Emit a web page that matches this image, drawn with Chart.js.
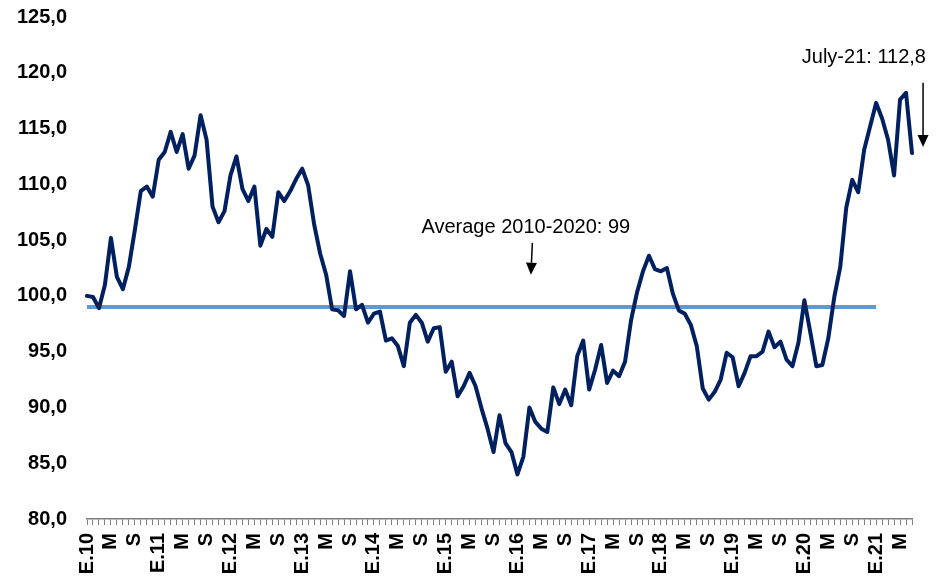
<!DOCTYPE html>
<html>
<head>
<meta charset="utf-8">
<script src="https://cdn.jsdelivr.net/npm/chart.js@4.4.1/dist/chart.umd.min.js"></script>
<style>
  html, body { margin: 0; padding: 0; background: #fff; }
  #wrap { width: 944px; height: 578px; position: relative; }
</style>
</head>
<body>
<div id="wrap"><canvas id="chart"></canvas></div>
<script>
// monthly index, Jan-2010 .. Jul-2021
const v2010 = [100.0, 99.9, 98.9, 101.0, 105.2, 101.7, 100.6, 102.6, 105.9, 109.4, 109.8, 108.9];
const v2011 = [112.2, 112.9, 114.7, 112.9, 114.5, 111.4, 112.6, 116.2, 114.0, 108.0, 106.6, 107.6];
const v2012 = [110.8, 112.5, 109.6, 108.5, 109.8, 104.5, 106.0, 105.3, 109.3, 108.5, 109.4, 110.5];
const v2013 = [111.4, 109.9, 106.4, 103.8, 101.9, 98.8, 98.7, 98.2, 102.2, 98.8, 99.2, 97.6];
const v2014 = [98.4, 98.6, 96.0, 96.2, 95.5, 93.7, 97.6, 98.3, 97.6, 95.9, 97.1, 97.2];
const v2015 = [93.2, 94.1, 91.0, 91.9, 93.1, 91.9, 89.9, 88.1, 86.0, 89.3, 86.8, 86.0];
const v2016 = [84.0, 85.6, 90.0, 88.7, 88.1, 87.8, 91.8, 90.3, 91.6, 90.2, 94.6, 96.0];
const v2017 = [91.6, 93.4, 95.6, 92.2, 93.3, 92.8, 94.1, 97.8, 100.3, 102.2, 103.6, 102.4];
const v2018 = [102.2, 102.5, 100.2, 98.7, 98.4, 97.4, 95.5, 91.7, 90.7, 91.4, 92.5, 94.9];
const v2019 = [94.5, 91.9, 93.1, 94.6, 94.6, 95.0, 96.8, 95.4, 95.9, 94.3, 93.7, 95.8];
const v2020 = [99.6, 96.7, 93.7, 93.8, 96.2, 99.9, 102.6, 107.9, 110.4, 109.3, 113.1, 115.2];
const v2021 = [117.3, 115.9, 114.0, 110.8, 117.6, 118.2, 112.8];

const years = ['10', '11', '12', '13', '14', '15', '16', '17', '18', '19', '20', '21'];
const yTicks = [80, 85, 90, 95, 100, 105, 110, 115, 120, 125];

const avgValue = 99;        // Average 2010-2020
const avgLastIndex = 132;   // line drawn until Jan-21

const series = [].concat(v2010, v2011, v2012, v2013, v2014, v2015, v2016, v2017, v2018, v2019, v2020, v2021);

// E = enero, M = mayo, S = septiembre
const labels = series.map((_, i) => {
  const m = i % 12;
  if (m === 0) return 'E.' + years[Math.floor(i / 12)];
  if (m === 4) return 'M';
  if (m === 8) return 'S';
  return '';
});
const avgSeries = series.map((_, i) => i <= avgLastIndex ? avgValue : null);

const FONT = 'Arial, "Liberation Sans", sans-serif';

// notes: text + arrow, placed through the scales
const notes = [
  { text: 'Average 2010-2020: 99', textX: 73.4, textY: 105.6, align: 'center',
    arrowX0: 74.5, arrowY0: 104.75, arrowX1: 74.25, arrowY1: 101.9 },
  { text: 'July-21: 112,8', textX: 129.95, textY: 120.9, align: 'center',
    arrowX0: 139.85, arrowY0: 119.1, arrowX1: 139.85, arrowY1: 113.35 }
];

const notesPlugin = {
  id: 'notes',
  afterDraw(chart) {
    const ctx = chart.ctx, xs = chart.scales.x, ys = chart.scales.y;
    ctx.save();
    notes.forEach(n => {
      ctx.font = '20px ' + FONT;
      ctx.fillStyle = '#000';
      ctx.textAlign = n.align;
      ctx.textBaseline = 'alphabetic';
      ctx.fillText(n.text, xs.getPixelForValue(n.textX), ys.getPixelForValue(n.textY));

      const x0 = xs.getPixelForValue(n.arrowX0), y0 = ys.getPixelForValue(n.arrowY0);
      const x1 = xs.getPixelForValue(n.arrowX1), y1 = ys.getPixelForValue(n.arrowY1);
      const ang = Math.atan2(y1 - y0, x1 - x0);
      const head = 12, half = 5.5;
      const bx = x1 - head * Math.cos(ang), by = y1 - head * Math.sin(ang);
      ctx.strokeStyle = '#000';
      ctx.lineWidth = 1.5;
      ctx.beginPath();
      ctx.moveTo(x0, y0);
      ctx.lineTo(bx, by);
      ctx.stroke();
      ctx.beginPath();
      ctx.moveTo(x1, y1);
      ctx.lineTo(bx + half * Math.sin(ang), by - half * Math.cos(ang));
      ctx.lineTo(bx - half * Math.sin(ang), by + half * Math.cos(ang));
      ctx.closePath();
      ctx.fill();
    });
    ctx.restore();
  }
};

new Chart(document.getElementById('chart'), {
  type: 'line',
  data: {
    labels: labels,
    datasets: [
      { label: 'Index', data: series, borderColor: '#002060', borderWidth: 4,
        pointRadius: 0, tension: 0, borderJoinStyle: 'round', borderCapStyle: 'round' },
      { label: 'Average', data: avgSeries, borderColor: '#5b9bd5', borderWidth: 4,
        pointRadius: 0, tension: 0, spanGaps: false }
    ]
  },
  options: {
    responsive: true,
    maintainAspectRatio: false,
    animation: false,
    layout: { padding: { top: 17, right: 29, left: 0, bottom: 0 } },
    plugins: { legend: { display: false }, tooltip: { enabled: false } },
    scales: {
      x: {
        type: 'category',
        offset: false,
        grid: { display: true, drawOnChartArea: false, drawTicks: true, tickLength: 6, color: '#7f7f7f', lineWidth: 1 },
        border: { display: true, color: '#7f7f7f', width: 1.5 },
        ticks: {
          autoSkip: false, minRotation: 90, maxRotation: 90, padding: 8,
          color: '#000', font: { family: FONT, size: 20, weight: 'bold' }
        },
        afterFit(s) { s.height = 59; }
      },
      y: {
        min: 80, max: 125,
        // transparent tick marks give the gap between labels and plot
        grid: { display: true, drawOnChartArea: false, drawTicks: true, tickLength: 17, color: 'rgba(0,0,0,0)' },
        border: { display: false },
        afterBuildTicks(s) { s.ticks = yTicks.map(v => ({ value: v })); },
        ticks: {
          padding: 3, color: '#000',
          font: { family: FONT, size: 20, weight: 'bold' },
          callback: v => v.toFixed(1).replace('.', ',')
        },
        afterFit(s) { s.width = 87; }
      }
    }
  },
  plugins: [notesPlugin]
});
</script>
</body>
</html>
